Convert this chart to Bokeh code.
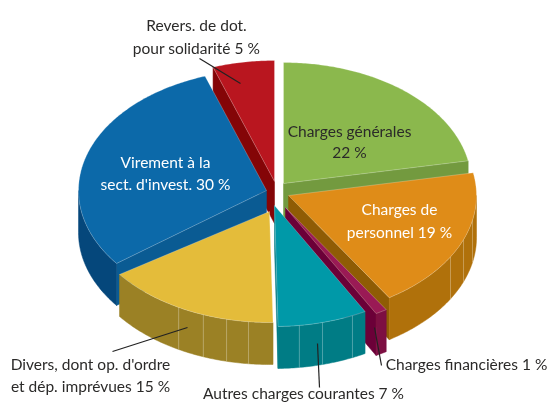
import math
from bokeh.plotting import figure
from bokeh.models import Range1d
from bokeh.core.properties import value
from bokeh.embed import file_html
from bokeh.resources import INLINE

# slices clockwise from 12 o'clock (printed labels sum to 99, drawn shares to 100)
names = ["green", "orange", "magenta", "teal", "yellow", "blue", "red"]
shares = [22, 19, 1, 7.7, 15, 30, 5.3]
top_colors = ["#8bb84d", "#df8c18", "#9a1a55", "#0099a8", "#e4bc3a", "#0c69a9", "#b9161f"]
face_colors = ["#739a3f", "#8f5c05", "#6b0038", "#007c85", "#9b8125", "#0a5b93", "#840507"]
wall_colors = ["#739a3f", "#b0710b", "#7d0f42", "#007c85", "#9b8125", "#05477b", "#840507"]
centers_x = [283, 288, 285, 274, 269, 266, 274]
centers_y = [183, 195, 207, 205, 201, 190, 181]
apex_y = [183, 195, 207, 205, 211, 190, 181]
wall_grid = {"orange": [101.8, 111.4, 120.5], "teal": [155.5, 165.2, 172.4],
             "yellow": [186.4, 193.2, 200.6, 208.9]}
draw_order = ["green", "red", "blue", "yellow", "orange", "magenta", "teal"]

RX, RY, DEPTH = 188, 121, 42

label_lines = ["Revers. de dot.", "pour solidarité 5 %", "Virement à la", "sect. d'invest. 30 %",
               "Charges générales", "22 %", "Charges de", "personnel 19 %",
               "Divers, dont op. d'ordre", "et dép. imprévues 15 %",
               "Charges financières 1 %", "Autres charges courantes 7 %"]
label_x = [196, 196, 165, 165, 349, 349, 399, 399, 90, 90, 466, 303]
label_y = [24, 47, 161, 183, 130, 151, 208, 231, 363, 385, 363, 392]
label_colors = ["#2b2a29"] * 2 + ["#ffffff"] * 2 + ["#2b2a29"] * 2 + ["#ffffff"] * 2 + ["#2b2a29"] * 4

leader_x = [[199, 240], [112, 187], [317, 319], [374, 381]]
leader_y = [[58, 83], [351, 327], [343, 387], [327, 365]]

p = figure(width=550, height=403, output_backend="svg", toolbar_location=None,
           x_range=Range1d(0, 550), y_range=Range1d(403, 10),
           min_border_left=0, min_border_right=0, min_border_top=10, min_border_bottom=0)
p.styles = {"position": "fixed", "left": "0px", "top": "0px"}
p.axis.visible = False
p.grid.visible = False
p.outline_line_color = None
p.background_fill_color = "white"


def rim(cx, cy, a, b, dy=0.0):
    n = max(2, int(abs(b - a) * 1.5))
    xs, ys = [], []
    for i in range(n + 1):
        t = math.radians(a + (b - a) * i / n)
        xs.append(cx + RX * math.sin(t))
        ys.append(cy - RY * math.cos(t) + dy)
    return xs, ys


angles = {}
acc = 0.0
for n, s in zip(names, shares):
    angles[n] = (acc * 3.6, (acc + s) * 3.6)
    acc += s

for n in draw_order:
    i = names.index(n)
    a, b = angles[n]
    cx, cy, ay = centers_x[i], centers_y[i], apex_y[i]
    # cut face
    edge = b if b < 180 else (a if a > 180 else None)
    if edge is not None:
        ex, ey = rim(cx, cy, edge, edge)
        p.patch([cx, ex[0], ex[0], cx], [ay, ey[0], ey[0] + DEPTH, ay + DEPTH],
                fill_color=face_colors[i], line_color=face_colors[i], line_width=0.5)
    # outer wall
    wa, wb = max(a, 90), min(b, 270)
    if wb > wa:
        tx, ty = rim(cx, cy, wa, wb)
        p.patch(tx + tx[::-1], ty + [v + DEPTH for v in ty[::-1]],
                fill_color=wall_colors[i], line_color=wall_colors[i], line_width=0.5)
        for g in wall_grid.get(n, []):
            gx, gy = rim(cx, cy, g, g)
            p.line([gx[0], gx[0]], [gy[0], gy[0] + DEPTH], line_color="#ffffff", line_alpha=0.3, line_width=1)
    # top
    tx, ty = rim(cx, cy, a, b)
    p.patch([cx] + tx, [ay] + ty, fill_color=top_colors[i], line_color="#ffffff", line_alpha=0.3, line_width=0.8)

for lx, ly in zip(leader_x, leader_y):
    p.line(lx, ly, line_color="#222222", line_width=1.2)

p.text(label_x, label_y, text=label_lines, text_color=label_colors, text_align="center",
       text_baseline="alphabetic", text_font=value("Lato"), text_font_size="15.5px")

open("out.html", "w").write(file_html(p, INLINE))
